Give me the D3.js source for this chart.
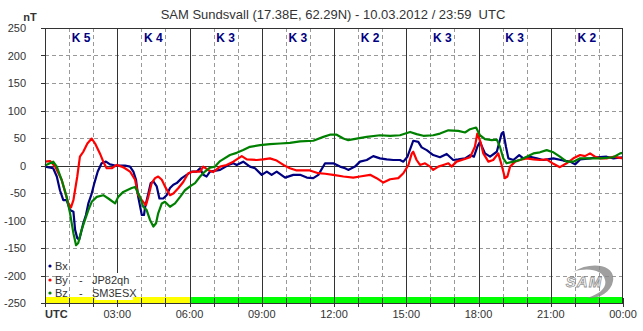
<!DOCTYPE html>
<html><head><meta charset="utf-8">
<script src="https://cdn.jsdelivr.net/npm/d3@7"></script>
<style>body{margin:0;background:#fff}svg{display:block;font-family:"Liberation Sans",Arial,sans-serif}</style>
</head><body><svg id="c" width="643" height="331"></svg>
<script>
const title = "SAM Sundsvall (17.38E, 62.29N) - 10.03.2012 / 23:59  UTC";
const yTicks = [250,200,150,100,50,0,-50,-100,-150,-200,-250];
const xTickLabels = ["03:00","06:00","09:00","12:00","15:00","18:00","21:00","00:00"];
const kIndex = [5,4,3,3,2,3,3,2];
const barSegments = [[0,6,"#ffff00"],[6,18,"#00ff00"],[18,24,"#00ff00"]];
// [hour, nT]
const bx = [[0,-2],[0.34,-5],[0.49,-20],[0.62,-45],[0.76,-63],[0.90,-63],[1.04,-81],[1.18,-84],[1.25,-117],[1.34,-132],[1.42,-135],[1.49,-123],[1.59,-105],[1.70,-90],[1.80,-69],[1.94,-51],[2.05,-32],[2.19,-11],[2.35,4],[2.53,7],[2.70,2],[2.91,0],[3.11,0],[3.32,0],[3.53,-2],[3.67,-11],[3.78,-26],[3.87,-57],[4.02,-90],[4.11,-90],[4.16,-75],[4.29,-51],[4.39,-32],[4.50,-29],[4.64,-38],[4.75,-60],[4.91,-60],[5.05,-54],[5.19,-41],[5.33,-35],[5.47,-32],[5.68,-23],[5.88,-17],[6.09,-11],[6.30,-11],[6.44,-5],[6.57,-17],[6.71,-20],[6.85,-11],[7.27,-8],[7.61,1],[7.82,4],[7.96,1],[8.23,7],[8.51,-2],[8.72,-5],[9.00,-17],[9.21,-11],[9.41,-17],[9.62,-11],[9.97,-22],[10.31,-17],[10.59,-17],[10.87,-22],[11.14,-23],[11.35,-17],[11.63,4],[11.97,4],[12.25,-2],[12.46,-5],[12.59,-8],[12.87,-2],[13.08,7],[13.36,10],[13.63,17],[13.91,13],[14.19,11],[14.46,10],[14.74,10],[14.88,7],[15.05,16],[15.29,45],[15.50,43],[15.64,33],[15.85,28],[16.12,19],[16.40,15],[16.68,21],[16.95,10],[17.16,11],[17.44,13],[17.65,19],[17.81,16],[17.95,34],[18.06,43],[18.27,22],[18.48,16],[18.76,25],[18.96,58],[19.03,61],[19.14,34],[19.24,13],[19.45,10],[19.69,19],[19.86,13],[20.14,16],[20.42,13],[20.69,10],[21.11,13],[21.52,9],[21.80,7],[22.01,2],[22.22,11],[22.63,13],[22.91,15],[23.32,16],[23.60,13],[23.99,15]];
const by = [[0,7],[0.21,8],[0.42,-2],[0.69,-26],[0.97,-69],[1.08,-76],[1.18,-63],[1.34,-20],[1.45,16],[1.59,25],[1.76,40],[1.94,49],[2.08,40],[2.28,22],[2.42,7],[2.56,-5],[2.77,-5],[2.98,1],[3.18,-2],[3.32,-5],[3.53,-11],[3.74,-26],[3.87,-54],[4.02,-63],[4.19,-72],[4.29,-57],[4.43,-32],[4.57,-23],[4.70,-20],[4.85,-26],[4.98,-38],[5.19,-54],[5.33,-51],[5.54,-41],[5.74,-30],[5.95,-14],[6.16,-11],[6.44,-11],[6.57,-2],[6.77,-8],[6.98,-12],[7.27,-2],[7.54,1],[7.82,7],[8.17,17],[8.38,11],[8.79,10],[9.06,11],[9.34,13],[9.62,9],[9.90,1],[10.17,-5],[10.45,-9],[11.00,-9],[11.35,-14],[11.63,-15],[11.97,-17],[12.39,-20],[12.80,-22],[13.08,-20],[13.50,-17],[13.77,-23],[14.05,-31],[14.33,-25],[14.67,-23],[14.88,-14],[15.09,1],[15.23,22],[15.29,25],[15.43,10],[15.57,1],[15.78,4],[15.99,-2],[16.12,-8],[16.33,-2],[16.54,1],[16.75,4],[16.88,-2],[17.09,7],[17.37,11],[17.65,15],[17.85,34],[17.95,58],[18.09,42],[18.20,22],[18.41,7],[18.61,10],[18.82,22],[18.96,1],[19.10,-23],[19.20,-20],[19.31,-2],[19.52,7],[19.72,10],[20.00,13],[20.28,11],[20.55,10],[20.83,11],[21.11,3],[21.38,-3],[21.66,4],[21.94,13],[22.22,19],[22.42,17],[22.63,22],[22.84,16],[23.05,13],[23.32,13],[23.60,16],[23.99,13]];
const bz = [[0,0],[0.34,7],[0.49,-2],[0.69,-26],[0.90,-57],[1.04,-87],[1.18,-123],[1.29,-145],[1.38,-141],[1.52,-117],[1.66,-99],[1.80,-81],[1.94,-66],[2.15,-57],[2.42,-54],[2.63,-60],[2.91,-69],[3.04,-57],[3.25,-48],[3.60,-41],[3.74,-39],[3.94,-57],[4.08,-75],[4.22,-81],[4.36,-99],[4.50,-111],[4.61,-105],[4.70,-87],[4.85,-69],[4.98,-66],[5.19,-75],[5.40,-69],[5.61,-57],[5.81,-45],[6.02,-38],[6.23,-32],[6.44,-20],[6.64,-11],[6.85,-4],[7.06,-2],[7.27,8],[7.68,19],[7.96,23],[8.23,28],[8.51,34],[8.93,37],[9.34,39],[9.76,40],[10.17,41],[10.59,44],[11.14,45],[11.56,52],[11.83,56],[12.11,56],[12.39,49],[12.59,46],[12.94,49],[13.36,52],[13.91,55],[14.33,54],[14.74,55],[15.16,61],[15.43,57],[15.71,54],[16.12,55],[16.40,58],[16.75,64],[17.16,63],[17.44,60],[17.65,66],[17.90,69],[18.06,55],[18.27,48],[18.55,46],[18.76,47],[18.89,34],[19.03,13],[19.17,4],[19.45,7],[19.72,10],[20.00,16],[20.28,22],[20.55,24],[20.83,28],[21.11,24],[21.38,16],[21.66,7],[21.94,7],[22.22,13],[22.63,13],[23.05,13],[23.60,15],[23.88,22],[23.99,23]];
const seriesNames = ["Bx","By","Bz"];
const seriesStations = ["","JP82qh","SM3ESX"];
const seriesColors = ["#000080","#ff0000","#008000"];

const svg = d3.select("#c");
const x = d3.scaleLinear().domain([0,24]).range([45,623]);
const y = d3.scaleLinear().domain([-250,250]).range([303,28]);
const txt = "#333";

svg.append("text").attr("x",333).attr("y",19).attr("text-anchor","middle")
  .attr("font-size",13).attr("fill",txt).attr("xml:space","preserve").text(title);
svg.append("text").attr("x",30).attr("y",21).attr("text-anchor","middle")
  .attr("font-size",11).attr("font-weight","bold").attr("fill",txt).text("nT");

// dashed grid
const g = svg.append("g");
yTicks.filter(v=>v!==0 && Math.abs(v)!==250).forEach(v=>{
  g.append("line").attr("x1",x(0)).attr("x2",x(24)).attr("y1",Math.round(y(v))+0.5).attr("y2",Math.round(y(v))+0.5)
    .attr("stroke","#999").attr("stroke-dasharray","4,3");
});
d3.range(1,24).filter(h=>h%3!==0).forEach(h=>{
  g.append("line").attr("x1",Math.round(x(h))+0.5).attr("x2",Math.round(x(h))+0.5).attr("y1",y(250)).attr("y2",y(-250))
    .attr("stroke","#999").attr("stroke-dasharray","4,3");
});
// bar
barSegments.forEach(s=>{
  const x0 = Math.round(x(s[0]))+1;
  g.append("rect").attr("x",x0).attr("y",y(-250)-6).attr("width",Math.round(x(s[1]))-x0).attr("height",6).attr("fill",s[2]);
});
// solid 3h lines
d3.range(3,24,3).forEach(h=>{
  g.append("line").attr("x1",Math.round(x(h))+0.5).attr("x2",Math.round(x(h))+0.5).attr("y1",y(250)).attr("y2",y(-250))
    .attr("stroke","#333");
});
g.append("line").attr("x1",x(0)).attr("x2",x(24)).attr("y1",Math.round(y(0))+0.5).attr("y2",Math.round(y(0))+0.5).attr("stroke","#333");

// y axis labels & ticks
yTicks.forEach(v=>{
  svg.append("line").attr("x1",41).attr("x2",45).attr("y1",Math.round(y(v))+0.5).attr("y2",Math.round(y(v))+0.5).attr("stroke","#333");
  svg.append("text").attr("x",26).attr("y",y(v)+4).attr("text-anchor","end").attr("font-size",11).attr("fill",txt).text(v);
});
// x ticks
d3.range(0,25).forEach(h=>{
  svg.append("line").attr("x1",Math.round(x(h))+0.5).attr("x2",Math.round(x(h))+0.5).attr("y1",y(-250)-5).attr("y2",y(-250)+4).attr("stroke","#333");
});
xTickLabels.forEach((l,i)=>{
  svg.append("text").attr("x",x((i+1)*3)).attr("y",318).attr("text-anchor","middle").attr("font-size",11).attr("fill",txt).text(l);
});
svg.append("text").attr("x",45).attr("y",318).attr("font-size",11).attr("font-weight","bold").attr("fill",txt).text("UTC");

// K labels
kIndex.forEach((k,i)=>{
  svg.append("text").attr("x",x(i*3+1.5)).attr("y",42).attr("text-anchor","middle").attr("font-size",12)
    .attr("font-weight","bold").attr("fill","#000080").attr("xml:space","preserve").text("K "+k);
});

// logo
const logo = svg.append("g").attr("opacity",0.8);
logo.append("path").attr("d","M573,272 C590,261 616,264 613,281 C611,293 598,299 587,298 C601,294 607,287 605,280 C603,270 588,267 573,272 Z").attr("fill","#888");
logo.append("text").attr("x",584).attr("y",287).attr("text-anchor","middle").attr("font-size",15).attr("font-style","italic")
  .attr("font-weight","bold").attr("fill","#fff").attr("stroke","#777").attr("stroke-width",0.8).attr("letter-spacing",1).text("SAM");

// lines
const line = d3.line().x(d=>x(d[0])).y(d=>y(d[1]));
[bx,by,bz].forEach((s,i)=>{
  svg.append("path").datum(s).attr("d",line).attr("fill","none").attr("stroke",seriesColors[i]).attr("stroke-width",2.2).attr("stroke-linejoin","round");
});

// frame
svg.append("rect").attr("x",x(0)+0.5).attr("y",y(250)+0.5).attr("width",x(24)-x(0)-1).attr("height",y(-250)-y(250)).attr("fill","none").attr("stroke","#333");

// legend
const legY = [266,280,293];
seriesNames.forEach((n,i)=>{
  if (seriesStations[i]) {
    svg.append("rect").attr("x",95).attr("y",legY[i]-7).attr("width",38).attr("height",14).attr("fill","#fff");
  }
  svg.append("circle").attr("cx",50).attr("cy",legY[i]).attr("r",1.6).attr("fill",seriesColors[i]);
  svg.append("text").attr("x",55).attr("y",legY[i]+4).attr("font-size",11).attr("fill",txt).text(n);
  if (seriesStations[i]) {
    svg.append("text").attr("x",79).attr("y",legY[i]+4).attr("font-size",11).attr("fill",txt).text("-");
    svg.append("text").attr("x",92).attr("y",legY[i]+4).attr("font-size",11).attr("fill",txt).text(seriesStations[i]);
  }
});
</script></body></html>
